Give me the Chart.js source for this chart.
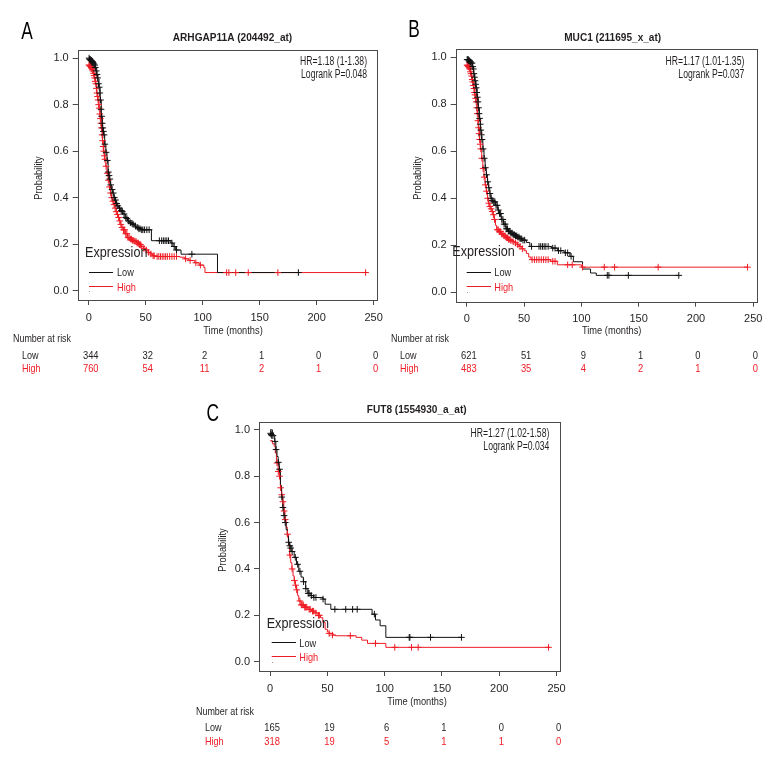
<!DOCTYPE html>
<html><head><meta charset="utf-8">
<script src="https://cdn.jsdelivr.net/npm/chart.js@4"></script>
<style>
html,body{margin:0;padding:0;background:#fff;}
#wrap{position:relative;width:780px;height:780px;background:#fff;}
canvas{position:absolute;}
</style></head><body>
<div id="wrap">
<canvas id="cA" width="390" height="380" style="left:0;top:0;width:390px;height:380px"></canvas>
<canvas id="cB" width="390" height="380" style="left:390px;top:0;width:390px;height:380px"></canvas>
<canvas id="cC" width="400" height="400" style="left:190px;top:380px;width:400px;height:400px"></canvas>
</div>
<script>
// ---------- shared ticks ----------
const X_TICKS = [0, 50, 100, 150, 200, 250];
const Y_TICKS = [0, 0.2, 0.4, 0.6, 0.8, 1.0];
const SERIES_NAMES = ['Low', 'High'];

// ---------- Panel A ----------
const A_letter = 'A';
const A_title = 'ARHGAP11A (204492_at)';
const A_hr = 'HR=1.18 (1-1.38)';
const A_p = 'Logrank P=0.048';
const A_riskLow = [344, 32, 2, 1, 0, 0];
const A_riskHigh = [760, 54, 11, 2, 1, 0];
const A_lowCurve = [[0,1.0],[2,0.99],[4,0.98],[6,0.96],[7,0.93],[8,0.91],[9,0.875],[10,0.82],[11,0.75],[12,0.70],[13,0.67],[14,0.63],[15,0.595],[16,0.56],[17,0.51],[18,0.48],[19,0.455],[20,0.435],[21,0.42],[22,0.40],[23,0.39],[24,0.375],[25,0.365],[26,0.355],[28,0.345],[30,0.33],[32,0.315],[34,0.30],[36,0.292],[38,0.285],[40,0.278],[42,0.272],[44,0.266],[46,0.262],[55,0.215],[72,0.205],[74,0.19],[76,0.175],[81,0.157],[113,0.078],[184,0.078]];
const A_highCurve = [[0,0.97],[2,0.96],[4,0.935],[5,0.915],[6,0.89],[7,0.85],[8,0.82],[9,0.785],[10,0.74],[11,0.70],[12,0.645],[13,0.60],[14,0.565],[15,0.535],[16,0.505],[17,0.475],[18,0.446],[19,0.42],[20,0.40],[21,0.385],[22,0.37],[23,0.355],[24,0.34],[25,0.328],[26,0.315],[27,0.30],[28,0.285],[29,0.272],[30,0.262],[32,0.245],[34,0.228],[36,0.222],[38,0.216],[40,0.212],[42,0.205],[44,0.198],[46,0.19],[48,0.182],[50,0.175],[52,0.165],[54,0.158],[56,0.15],[58,0.147],[80,0.144],[84,0.137],[88,0.13],[93,0.12],[97,0.11],[101,0.10],[102,0.078],[244,0.078]];
const A_lowCensor = [[0.3,1.0],[0.8,0.995],[1.3,0.995],[1.8,0.99],[2.3,0.99],[2.8,0.985],[3.3,0.985],[3.8,0.98],[4.5,0.975],[5.2,0.97],[5.8,0.96],[6.5,0.945],[7.2,0.93],[7.8,0.915],[8.5,0.89],[9.2,0.875],[9.7,0.85],[10.3,0.82],[10.8,0.78],[11.3,0.75],[11.8,0.72],[12.3,0.70],[12.8,0.685],[13.5,0.67],[14.2,0.63],[15.2,0.595],[16.3,0.56],[17.2,0.51],[17.8,0.495],[18.5,0.48],[19.3,0.455],[20.5,0.435],[21.5,0.42],[22.5,0.40],[23.5,0.39],[24.5,0.375],[25.5,0.365],[27,0.355],[28.5,0.345],[29.5,0.34],[31,0.33],[32.5,0.315],[33.5,0.31],[35,0.30],[36.5,0.292],[38,0.29],[39,0.285],[41,0.278],[43,0.272],[44,0.266],[45,0.266],[46.5,0.262],[47.5,0.262],[49,0.262],[51,0.262],[53,0.262],[62,0.215],[64,0.215],[65.5,0.215],[67,0.215],[68.5,0.215],[70,0.215],[73,0.205],[75,0.19],[77,0.175],[90.5,0.157],[184,0.078]];
const A_highCensor = [[0.2,0.97],[0.7,0.97],[1.2,0.965],[1.7,0.965],[2.2,0.96],[2.7,0.955],[3.2,0.95],[3.7,0.945],[4.2,0.935],[4.7,0.925],[5.2,0.915],[5.7,0.9],[6.2,0.89],[6.7,0.87],[7.2,0.85],[7.7,0.835],[8.2,0.82],[8.7,0.80],[9.2,0.785],[9.7,0.76],[10.2,0.74],[10.7,0.72],[11.2,0.70],[11.7,0.67],[12.2,0.645],[12.7,0.62],[13.2,0.60],[13.7,0.58],[14.2,0.565],[15.2,0.535],[16.2,0.505],[17.2,0.475],[18.2,0.446],[19.2,0.42],[20.2,0.40],[21.2,0.385],[22.2,0.37],[23.2,0.355],[24.2,0.34],[25.2,0.328],[26.2,0.315],[27.2,0.30],[28.2,0.285],[29.2,0.272],[30.5,0.262],[31.5,0.262],[32.5,0.245],[33.5,0.245],[34.5,0.228],[35.5,0.228],[36.5,0.222],[37.5,0.222],[38.5,0.216],[39.5,0.216],[40.5,0.212],[41.5,0.212],[42.5,0.205],[43.5,0.205],[44.5,0.198],[45.5,0.198],[46.5,0.19],[48.5,0.182],[50.5,0.175],[52.5,0.165],[54.5,0.158],[56.5,0.15],[57.5,0.15],[60,0.147],[61.5,0.147],[63,0.147],[64.5,0.147],[66,0.147],[67.5,0.147],[69,0.147],[71,0.147],[73,0.147],[75,0.147],[77,0.147],[85,0.137],[89,0.13],[94,0.12],[98,0.11],[121,0.078],[123,0.078],[129,0.078],[140,0.078],[166,0.078],[243,0.078]];

// ---------- Panel B ----------
const B_letter = 'B';
const B_title = 'MUC1 (211695_x_at)';
const B_hr = 'HR=1.17 (1.01-1.35)';
const B_p = 'Logrank P=0.037';
const B_riskLow = [621, 51, 9, 1, 0, 0];
const B_riskHigh = [483, 35, 4, 2, 1, 0];
const B_lowCurve = [[0,0.99],[2,0.985],[4,0.975],[5,0.96],[6,0.93],[7,0.90],[8,0.87],[9,0.83],[10,0.785],[11,0.74],[12,0.69],[13,0.65],[14,0.61],[15,0.57],[16,0.53],[17,0.50],[18,0.47],[19,0.445],[20,0.42],[21,0.40],[22,0.39],[23,0.385],[25,0.37],[27,0.35],[28,0.335],[30,0.31],[32,0.29],[34,0.27],[36,0.26],[38,0.252],[40,0.245],[42,0.24],[44,0.235],[46,0.228],[48,0.222],[52,0.212],[55,0.195],[74,0.188],[79,0.177],[85,0.168],[90,0.153],[93,0.13],[101,0.099],[108,0.082],[113,0.072],[185,0.072]];
const B_highCurve = [[0,0.966],[2,0.955],[3,0.938],[4,0.92],[5,0.895],[6,0.867],[7,0.84],[8,0.81],[9,0.76],[10,0.70],[11,0.65],[12,0.61],[13,0.57],[14,0.527],[15,0.49],[16,0.457],[17,0.43],[18,0.40],[19,0.379],[20,0.365],[21,0.355],[22,0.344],[23,0.33],[24,0.31],[25,0.285],[26,0.266],[28,0.258],[30,0.248],[32,0.24],[34,0.232],[36,0.225],[38,0.22],[40,0.215],[42,0.21],[44,0.202],[46,0.195],[48,0.185],[50,0.177],[52,0.165],[54,0.15],[56,0.139],[73,0.132],[79,0.117],[100,0.107],[245,0.107]];
const B_lowCensor = [[0.3,0.99],[0.8,0.99],[1.3,0.99],[1.8,0.985],[2.3,0.985],[2.8,0.98],[3.3,0.98],[3.8,0.975],[4.5,0.975],[5.2,0.96],[5.7,0.95],[6.2,0.93],[6.7,0.915],[7.2,0.90],[7.7,0.885],[8.2,0.87],[8.7,0.85],[9.2,0.83],[9.7,0.81],[10.2,0.785],[10.7,0.76],[11.2,0.74],[11.7,0.715],[12.2,0.69],[12.7,0.67],[13.2,0.65],[14.2,0.61],[15.2,0.57],[16.2,0.53],[17.2,0.50],[18.2,0.47],[19.2,0.445],[20.2,0.42],[21.2,0.40],[22.2,0.39],[23.5,0.385],[24.5,0.385],[25.5,0.37],[26.5,0.37],[27.5,0.35],[28.5,0.335],[29.5,0.335],[30.5,0.31],[31.5,0.31],[32.5,0.29],[33.5,0.29],[34.5,0.27],[35.5,0.27],[36.5,0.26],[37.5,0.26],[38.5,0.252],[39.5,0.252],[40.5,0.245],[41.5,0.245],[42.5,0.24],[43.5,0.24],[44.5,0.235],[45.5,0.235],[46.5,0.228],[47.5,0.228],[49,0.222],[50.5,0.222],[56.5,0.195],[63,0.195],[64.5,0.195],[66,0.195],[67.5,0.195],[69,0.195],[71,0.195],[75,0.188],[77,0.188],[80,0.177],[82,0.177],[86,0.168],[88,0.168],[91,0.153],[122.6,0.072],[124,0.072],[141,0.072],[185,0.072]];
const B_highCensor = [[0.2,0.966],[0.7,0.966],[1.2,0.96],[1.7,0.96],[2.2,0.955],[2.7,0.95],[3.2,0.938],[3.7,0.93],[4.2,0.92],[4.7,0.905],[5.2,0.895],[5.7,0.88],[6.2,0.867],[6.7,0.85],[7.2,0.84],[7.7,0.825],[8.2,0.81],[8.7,0.785],[9.2,0.76],[9.7,0.73],[10.2,0.70],[10.7,0.675],[11.2,0.65],[11.7,0.63],[12.2,0.61],[13.2,0.57],[14.2,0.527],[15.2,0.49],[16.2,0.457],[17.2,0.43],[18.2,0.40],[19.2,0.379],[20.2,0.365],[21.2,0.355],[22.2,0.344],[23.2,0.33],[24.2,0.31],[26.5,0.266],[27.5,0.266],[28.5,0.258],[29.5,0.258],[30.5,0.248],[31.5,0.248],[32.5,0.24],[33.5,0.24],[34.5,0.232],[35.5,0.232],[36.5,0.225],[37.5,0.225],[38.5,0.22],[40.5,0.215],[42.5,0.21],[44.5,0.202],[46.5,0.195],[48.5,0.185],[57,0.139],[59,0.139],[61,0.139],[63,0.139],[65,0.139],[67,0.139],[69,0.139],[71,0.139],[75,0.132],[77,0.132],[88,0.117],[92,0.117],[101,0.107],[120,0.107],[129,0.107],[167,0.107],[245,0.107]];

// ---------- Panel C ----------
const C_letter = 'C';
const C_title = 'FUT8 (1554930_a_at)';
const C_hr = 'HR=1.27 (1.02-1.58)';
const C_p = 'Logrank P=0.034';
const C_riskLow = [165, 19, 6, 1, 0, 0];
const C_riskHigh = [318, 19, 5, 1, 1, 0];
const C_lowCurve = [[0,1.0],[2,0.985],[3,0.975],[4,0.95],[5,0.915],[6,0.885],[7,0.86],[8,0.83],[9,0.76],[10,0.71],[11,0.665],[12,0.63],[13,0.60],[14,0.57],[15,0.54],[16,0.515],[17,0.50],[19,0.475],[21,0.45],[23,0.42],[25,0.39],[27,0.365],[29,0.345],[31,0.315],[33,0.295],[35,0.285],[38,0.277],[46,0.27],[48,0.248],[53,0.226],[89,0.205],[92,0.18],[96,0.155],[101,0.105],[167,0.105]];
const C_highCurve = [[0,0.953],[2,0.94],[3.5,0.93],[4.5,0.90],[5.5,0.857],[7,0.82],[8,0.80],[9,0.75],[10,0.72],[11,0.69],[12,0.65],[13,0.613],[14,0.58],[15,0.55],[16,0.50],[17,0.46],[18,0.427],[19,0.40],[20,0.37],[21,0.35],[22,0.33],[23,0.31],[24,0.285],[25,0.262],[27,0.245],[30,0.235],[33,0.226],[36,0.218],[39,0.21],[42,0.20],[44,0.19],[46,0.17],[48,0.14],[50,0.128],[52,0.122],[55,0.115],[57,0.112],[75,0.105],[80,0.093],[85,0.079],[101,0.062],[244,0.062]];
const C_lowCensor = [[0.5,0.985],[1,0.98],[1.5,0.975],[2.5,0.975],[4.2,0.95],[5.2,0.915],[7.2,0.86],[8.2,0.83],[10.2,0.71],[11.2,0.665],[12.2,0.63],[13.2,0.60],[16.2,0.515],[17.2,0.50],[18,0.49],[19.2,0.475],[22,0.45],[24,0.42],[26,0.39],[29.2,0.345],[31.2,0.315],[33.2,0.295],[34,0.295],[36,0.285],[38.2,0.277],[40,0.277],[46.2,0.27],[56.5,0.226],[66,0.226],[72,0.226],[76,0.226],[91,0.205],[121.4,0.105],[122,0.105],[140,0.105],[167,0.105]];
const C_highCensor = [[6,0.857],[7.2,0.82],[8.2,0.80],[9.2,0.75],[10.2,0.72],[11.2,0.69],[12.2,0.65],[13.2,0.613],[15.2,0.55],[17.2,0.46],[19.2,0.40],[21.2,0.35],[22.2,0.33],[23.2,0.31],[26,0.262],[27.2,0.245],[28,0.245],[29,0.245],[30.2,0.235],[31,0.235],[32,0.235],[34,0.226],[35,0.226],[37,0.218],[38,0.218],[40,0.21],[42.2,0.20],[43,0.20],[51.5,0.122],[54.4,0.115],[70,0.112],[92,0.079],[108.8,0.062],[123.4,0.062],[129.2,0.062],[243,0.062]];

// ---------- styling / layout ----------
const FONT = '"Liberation Sans",Arial,sans-serif';
const INK = '#231f20';
const RED = '#ee1c25';
const BOXC = '#4a4a4a';

const LAYOUTS = {
  A: {w:390,h:380, box:{l:77.7,t:50,r:377,b:300}, letter:{x:27,y:32}, title:{x:232.5,y:37.5},
      hr:{x:367,y1:62,y2:75}, ylab:{x:39,y:178}, leg:{ex:85,ey:253,lx1:89,lx2:113,ly1:272,ly2:286,tx:117},
      time:{x:233,y:331}, nar:{x:13,y:339}, rows:{x:22,y1:356,y2:369}},
  B: {w:390,h:380, box:{l:65.7,t:49,r:366.7,b:301.7}, letter:{x:24,y:30}, title:{x:222.7,y:38},
      hr:{x:354.3,y1:62,y2:75}, ylab:{x:28,y:178}, leg:{ex:62.3,ey:252,lx1:76.7,lx2:101,ly1:272,ly2:285.7,tx:104.3},
      time:{x:221.7,y:331}, nar:{x:1,y:339}, rows:{x:10,y1:356,y2:369}},
  C: {w:400,h:400, box:{l:69,t:41.7,r:370,b:291}, letter:{x:22.7,y:34}, title:{x:226.7,y:30},
      hr:{x:359.3,y1:54,y2:67}, ylab:{x:33,y:170}, leg:{ex:76.7,ey:243.3,lx1:81.7,lx2:106,ly1:262.3,ly2:275.7,tx:109.3},
      time:{x:227,y:322}, nar:{x:6,y:332}, rows:{x:15,y1:348,y2:362}}
};

function txt(ctx, s, x, y, font, color, align, sx) {
  ctx.save();
  ctx.font = font; ctx.fillStyle = color; ctx.textAlign = align || 'left'; ctx.textBaseline = 'middle';
  ctx.translate(x, y);
  if (sx) ctx.scale(sx, 1);
  ctx.fillText(s, 0, 0);
  ctx.restore();
}

function makePanel(id, L, info) {
  const toXY = arr => arr.map(p => ({x: p[0], y: p[1]}));
  const deco = {
    id: 'deco' + id,
    afterDraw(chart) {
      const ctx = chart.ctx, a = chart.chartArea, xs = chart.scales.x;
      ctx.save();
      ctx.strokeStyle = BOXC; ctx.lineWidth = 1;
      ctx.strokeRect(Math.round(a.left) + 0.5, Math.round(a.top) + 0.5, Math.round(a.right - a.left), Math.round(a.bottom - a.top));
      ctx.restore();
      txt(ctx, info.letter, L.letter.x, L.letter.y, '24px ' + FONT, '#000', 'center', 0.72);
      txt(ctx, info.title, L.title.x, L.title.y, 'bold 11.6px ' + FONT, INK, 'center', 0.87);
      txt(ctx, info.hr, L.hr.x, L.hr.y1, '12.5px ' + FONT, INK, 'right', 0.69);
      txt(ctx, info.p, L.hr.x, L.hr.y2, '12.5px ' + FONT, INK, 'right', 0.69);
      // y title
      ctx.save();
      ctx.translate(L.ylab.x, L.ylab.y); ctx.rotate(-Math.PI / 2); ctx.scale(0.8, 1);
      ctx.font = '11.6px ' + FONT; ctx.fillStyle = INK; ctx.textAlign = 'center'; ctx.textBaseline = 'middle';
      ctx.fillText('Probability', 0, 0);
      ctx.restore();
      // legend
      const g = L.leg;
      txt(ctx, 'Expression', g.ex, g.ey, '15.4px ' + FONT, INK, 'left', 0.82);
      ctx.save(); ctx.lineWidth = 1;
      ctx.strokeStyle = '#111'; ctx.beginPath(); ctx.moveTo(g.lx1, Math.round(g.ly1) + 0.5); ctx.lineTo(g.lx2, Math.round(g.ly1) + 0.5); ctx.stroke();
      ctx.strokeStyle = RED; ctx.beginPath(); ctx.moveTo(g.lx1, Math.round(g.ly2) + 0.5); ctx.lineTo(g.lx2, Math.round(g.ly2) + 0.5); ctx.stroke();
      ctx.fillStyle = '#999'; ctx.fillRect(Math.round(g.lx1), Math.round(chart.scales.y.getPixelForValue(0)), 1, 1);
      ctx.restore();
      txt(ctx, SERIES_NAMES[0], g.tx, g.ly1 + 1, '11.8px ' + FONT, INK, 'left', 0.78);
      txt(ctx, SERIES_NAMES[1], g.tx, g.ly2 + 2, '11.8px ' + FONT, RED, 'left', 0.78);
      // x title and risk table
      txt(ctx, 'Time (months)', L.time.x, L.time.y, '11.6px ' + FONT, INK, 'center', 0.8);
      txt(ctx, 'Number at risk', L.nar.x, L.nar.y, '11.6px ' + FONT, INK, 'left', 0.77);
      txt(ctx, SERIES_NAMES[0], L.rows.x, L.rows.y1, '11.6px ' + FONT, INK, 'left', 0.78);
      txt(ctx, SERIES_NAMES[1], L.rows.x, L.rows.y2, '11.6px ' + FONT, RED, 'left', 0.78);
      X_TICKS.forEach((t, i) => {
        const px = xs.getPixelForValue(t) + 2;
        txt(ctx, String(info.riskLow[i]), px, L.rows.y1, '11.2px ' + FONT, INK, 'center', 0.84);
        txt(ctx, String(info.riskHigh[i]), px, L.rows.y2, '11.2px ' + FONT, RED, 'center', 0.84);
      });
    }
  };
  const cross = (data, color) => ({
    data: toXY(data), showLine: false, pointStyle: 'cross', pointRadius: 3.3, pointHoverRadius: 3.3,
    borderColor: color, backgroundColor: color, pointBorderWidth: 1, borderWidth: 1
  });
  const curve = (data, color) => ({
    data: toXY(data), showLine: true, stepped: 'before', pointRadius: 0, borderColor: color, borderWidth: 1, fill: false
  });
  return new Chart(document.getElementById(id), {
    type: 'scatter',
    data: { datasets: [
      cross(info.lowCensor, '#111'), cross(info.highCensor, RED),
      curve(info.lowCurve, '#111'), curve(info.highCurve, RED)
    ]},
    options: {
      responsive: false, animation: false, devicePixelRatio: 1,
      layout: { padding: { left: 0, top: L.box.t, right: L.w - L.box.r, bottom: L.h - L.box.b - 30 } },
      plugins: { legend: { display: false }, tooltip: { enabled: false }, title: { display: false } },
      scales: {
        x: {
          type: 'linear', min: -9.7, max: 253,
          afterBuildTicks: s => { s.ticks = X_TICKS.map(v => ({value: v})); },
          afterFit: s => { s.height = 30; },
          grid: { display: true, drawOnChartArea: false, drawTicks: true, tickLength: 5, color: BOXC, tickColor: BOXC },
          border: { display: false },
          ticks: { font: { family: FONT, size: 11 }, color: INK, padding: 6, maxRotation: 0, autoSkip: false, callback: v => String(v) }
        },
        y: {
          type: 'linear', min: -0.04, max: 1.035,
          afterBuildTicks: s => { s.ticks = Y_TICKS.map(v => ({value: v})); },
          afterFit: s => { s.width = L.box.l; },
          grid: { display: true, drawOnChartArea: false, drawTicks: true, tickLength: 5, color: BOXC, tickColor: BOXC },
          border: { display: false },
          ticks: { font: { family: FONT, size: 11 }, color: INK, padding: 4, autoSkip: false, callback: v => v.toFixed(1) }
        }
      }
    },
    plugins: [deco]
  });
}

makePanel('cA', LAYOUTS.A, {letter: A_letter, title: A_title, hr: A_hr, p: A_p, riskLow: A_riskLow, riskHigh: A_riskHigh,
  lowCurve: A_lowCurve, highCurve: A_highCurve, lowCensor: A_lowCensor, highCensor: A_highCensor});
makePanel('cB', LAYOUTS.B, {letter: B_letter, title: B_title, hr: B_hr, p: B_p, riskLow: B_riskLow, riskHigh: B_riskHigh,
  lowCurve: B_lowCurve, highCurve: B_highCurve, lowCensor: B_lowCensor, highCensor: B_highCensor});
makePanel('cC', LAYOUTS.C, {letter: C_letter, title: C_title, hr: C_hr, p: C_p, riskLow: C_riskLow, riskHigh: C_riskHigh,
  lowCurve: C_lowCurve, highCurve: C_highCurve, lowCensor: C_lowCensor, highCensor: C_highCensor});
</script>
</body></html>
